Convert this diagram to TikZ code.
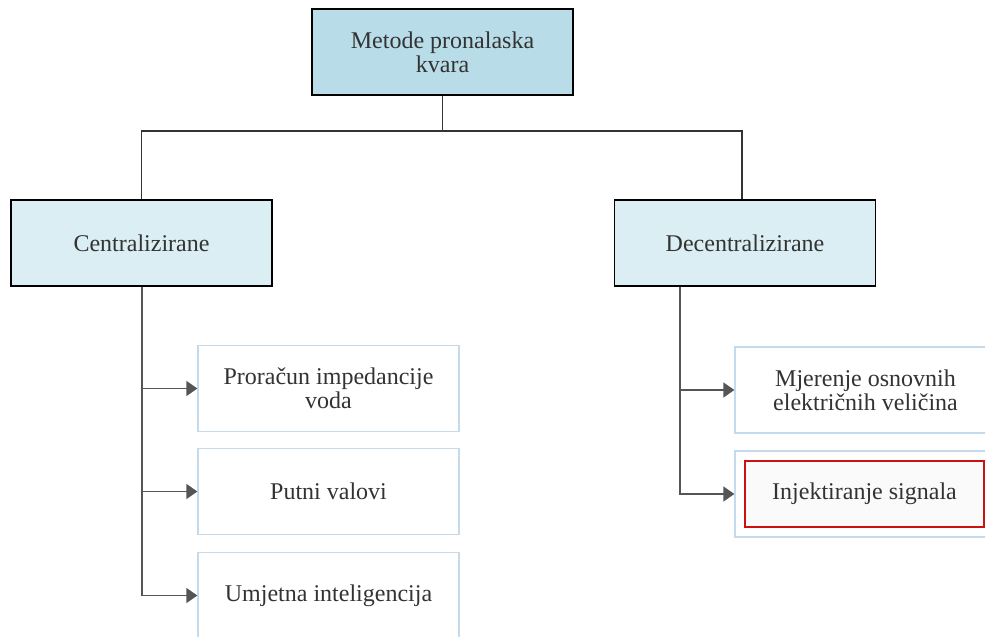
\documentclass[tikz,border=0pt]{standalone}
\usepackage{fontspec}
\setmainfont{Liberation Serif}
\usetikzlibrary{arrows.meta}
\definecolor{topfill}{HTML}{B8DDE8}
\definecolor{midfill}{HTML}{DAEEF3}
\definecolor{leafborder}{HTML}{C5DAEA}
\definecolor{txt}{HTML}{333333}
\definecolor{arrowc}{HTML}{555555}
\definecolor{redb}{HTML}{CC1111}
\definecolor{injfill}{HTML}{FAFAFA}
\tikzset{
  txtstyle/.style={text=txt, font=\fontsize{24}{24}\selectfont, align=center, inner sep=0pt},
  topbox/.style={txtstyle, draw=black, line width=1.5pt, fill=topfill, minimum width=261pt, minimum height=86pt},
  midbox/.style={txtstyle, draw=black, line width=1.5pt, fill=midfill, minimum width=261pt, minimum height=86pt},
  leafbox/.style={txtstyle, draw=leafborder, line width=1.3pt, fill=white, minimum width=261pt, minimum height=86pt},
  redbox/.style={txtstyle, draw=redb, line width=1.3pt, fill=injfill, minimum width=239pt, minimum height=66pt},
  conn/.style={draw=black!80, line width=1.4pt},
  arr/.style={draw=arrowc, line width=1.5pt, -{Triangle[length=11pt,width=15pt]}},
}
\begin{document}
\begin{tikzpicture}[x=1pt,y=-1pt]
\useasboundingbox (0,0) rectangle (985,637);
\clip (0,0) rectangle (985,637);
\node[topbox] (top) at (442.5,52) {Metode pronalaska\\kvara};
\node[midbox] (cen) at (141.5,243) {Centralizirane};
\node[midbox] (dec) at (745,243) {Decentralizirane};
\node[leafbox] (p1) at (328.5,388.5) {Proračun impedancije\\voda};
\node[leafbox] (p2) at (328.5,491.5) {Putni valovi};
\node[leafbox] (p3) at (328.5,595.5) {Umjetna inteligencija};
\node[leafbox] (m1) at (865.5,390) {Mjerenje osnovnih\\električnih veličina};
\node[leafbox] (m2) at (865.5,494) {};
\node[redbox] (inj) at (864.5,494) {Injektiranje signala};
\coordinate (j) at (442.5,131);
\draw[conn] (top.south) -- (j);
\draw[conn] (cen.north) |- (j);
\draw[conn] ([xshift=-3pt]dec.north) |- (j);
\draw[arr] ([xshift=0.5pt]cen.south) |- (p1.west);
\draw[arr] ([xshift=0.5pt]cen.south) |- (p2.west);
\draw[arr] ([xshift=0.5pt]cen.south) |- (p3.west);
\draw[arr] ([xshift=-65pt]dec.south) |- (m1.west);
\draw[arr] ([xshift=-65pt]dec.south) |- (m2.west);
\end{tikzpicture}
\end{document}
